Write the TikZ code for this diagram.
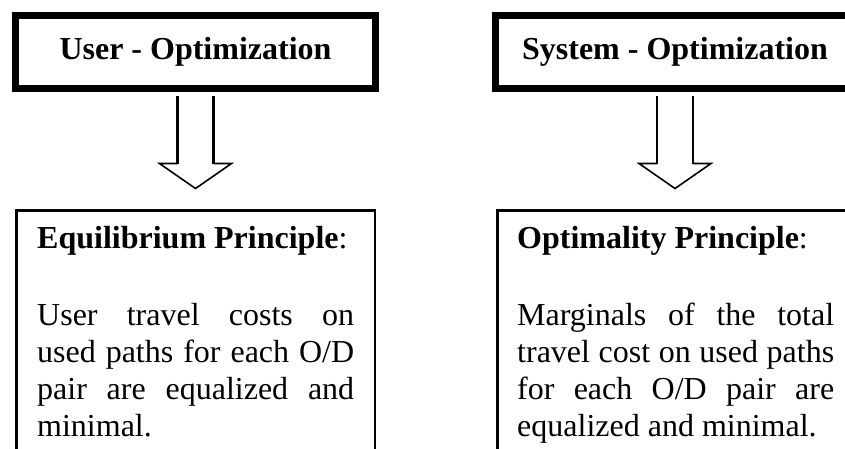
\documentclass[tikz,border=0pt]{standalone}
\usepackage{fontspec}
\setmainfont{Liberation Serif}
\usetikzlibrary{calc}
\begin{document}
\begin{tikzpicture}[x=1pt,y=-1pt,
  topbox/.style={draw, line width=7pt, minimum width=360pt, minimum height=73pt, inner sep=0pt,
    font=\fontsize{32}{37}\selectfont\bfseries},
  lowbox/.style={draw, line width=2.4pt, anchor=north west, minimum width=358.6pt,
    minimum height=262pt, inner sep=0pt},
  bodytext/.style={anchor=base west, inner sep=0pt, text width=317pt, align=justify,
    font=\fontsize{32}{37.2}\selectfont,
    execute at begin node={\setlength{\parindent}{0pt}\tolerance=10000 \hyphenpenalty=10000 }},
  shaft/.style={line width=2.6pt},
  head/.style={line width=1.6pt, line join=miter}]
\useasboundingbox (0,0) rectangle (845,448);
\clip (0,0) rectangle (845,448);
% top boxes
\node[topbox] (uo) at (195.5,52) {User - Optimization};
\node[topbox] (so) at (675,52) {System - Optimization};
% lower boxes
\node[lowbox] (ep) at (15.2,209.2) {};
\node[lowbox] (op) at (496.2,209.2) {};
% texts
\node[bodytext] (ept) at (37,248) {\textbf{Equilibrium Principle}:\par\vspace{40pt}User travel costs on\linebreak used paths for each O/D\linebreak pair are equalized and\linebreak minimal.};
\node[bodytext] (opt) at (517,248) {\textbf{Optimality Principle}:\par\vspace{40pt}Marginals of the total\linebreak travel cost on used paths\linebreak for each O/D pair are\linebreak equalized and minimal.};
% left arrow
\coordinate (utip) at ($(uo.south)+(0,96.5)$);
\draw[shaft] ($(uo.south)+(-18,3.5)$) -- ++(0,68);
\draw[shaft] ($(uo.south)+(18,3.5)$) -- ++(0,68);
\draw[head] ($(uo.south)+(-18,71.5)$) -- ++(-18,0) -- (utip) -- ($(uo.south)+(36,71.5)$) -- ++(-18,0);
% right arrow
\coordinate (stip) at ($(so.south)+(0,96.5)$);
\draw[shaft] ($(so.south)+(-18,3.5)$) -- ++(0,68);
\draw[shaft] ($(so.south)+(18,3.5)$) -- ++(0,68);
\draw[head] ($(so.south)+(-18,71.5)$) -- ++(-18,0) -- (stip) -- ($(so.south)+(36,71.5)$) -- ++(-18,0);
\end{tikzpicture}
\end{document}
